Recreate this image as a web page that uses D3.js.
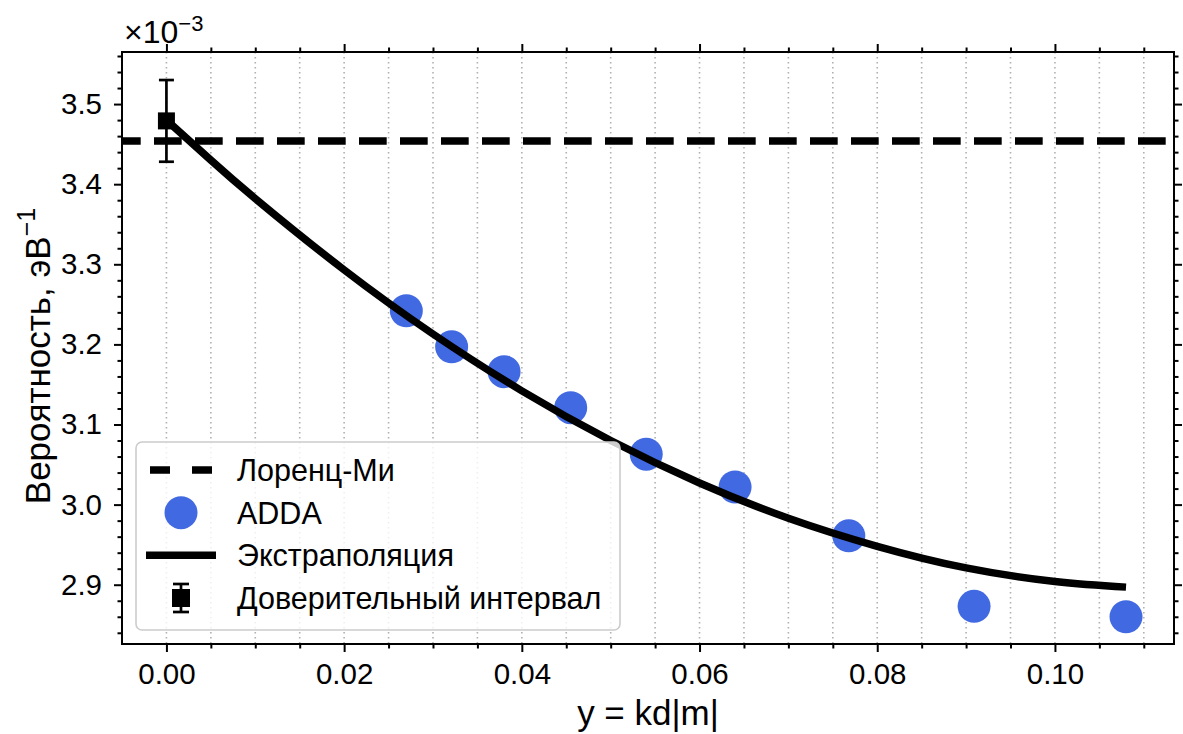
<!DOCTYPE html>
<html>
<head>
<meta charset="utf-8">
<script src="https://cdn.jsdelivr.net/npm/d3@7"></script>
<style>
  body { margin: 0; background: #fff; }
  svg { font-family: "Liberation Sans", Arial, sans-serif; }
</style>
</head>
<body>
<div id="chart"></div>
<script>
// values in units of 1e-3
const addaX = [0.0270, 0.0321, 0.0380, 0.0455, 0.0540, 0.0640, 0.0768, 0.0909, 0.1080]
const addaY = [3.242, 3.197, 3.166, 3.121, 3.063, 3.022, 2.961, 2.873, 2.860]

const fitX = [0, 0.005, 0.01, 0.02, 0.03, 0.04, 0.05, 0.06, 0.07, 0.08, 0.09, 0.10, 0.108]
const fitY = [3.480, 3.430, 3.382, 3.293, 3.213, 3.142, 3.080, 3.027, 2.983, 2.948, 2.921, 2.904, 2.897]

const lorenzMie = 3.454
const ciX = [0]
const ciY = [3.479]
const ciErr = [0.051]

const xTicks = [0.00, 0.02, 0.04, 0.06, 0.08, 0.10]
const yTicks = [2.9, 3.0, 3.1, 3.2, 3.3, 3.4, 3.5]
const legendLabels = ["Лоренц-Ми", "ADDA", "Экстраполяция", "Доверительный интервал"]

drawChart("#chart")

function drawChart(id){
    const canvas = createCanvas()
    const svg = addSvg(id, canvas)
    const sc = addScales(canvas)

    addGrid(svg, sc, canvas)
    addLorenzLine(svg, sc, canvas)
    addAddaPoints(svg, sc)
    addFitLine(svg, sc)
    addErrorBar(svg, sc)
    addAxes(svg, sc, canvas)
    addLabels(svg, canvas)
    addLegend(svg)
}

function createCanvas(){
    return {
        width: 1183, height: 734, margin: {top: 52, bottom: 90, right: 9, left: 122}
    }
}

function addSvg(id, canvas){
    return d3.select(id).append("svg")
        .attr("width", canvas.width).attr("height", canvas.height)
}

function addScales(canvas){
    const xScale = d3.scaleLinear().domain([-0.005, 0.1134])
        .range([canvas.margin.left, canvas.width - canvas.margin.right])
    const yScale = d3.scaleLinear().domain([2.826, 3.565])
        .range([canvas.height - canvas.margin.bottom, canvas.margin.top])
    return {xScale, yScale}
}

function addGrid(svg, sc, canvas){
    const minor = d3.range(0, 0.1134, 0.005)
    svg.append("g").selectAll("line").data(minor).join("line")
        .attr("x1", d => sc.xScale(d)).attr("x2", d => sc.xScale(d))
        .attr("y1", canvas.margin.top).attr("y2", canvas.height - canvas.margin.bottom)
        .attr("stroke", "#b0b0b0").attr("stroke-width", 1.6)
        .attr("stroke-dasharray", "1.6 3.4")
}

function addLorenzLine(svg, sc, canvas){
    svg.append("line")
        .attr("x1", canvas.margin.left).attr("x2", canvas.width - canvas.margin.right)
        .attr("y1", sc.yScale(lorenzMie)).attr("y2", sc.yScale(lorenzMie))
        .attr("stroke", "#000").attr("stroke-width", 7.5)
        .attr("stroke-dasharray", "27.7 13.3").attr("stroke-dashoffset", 9)
}

function addAddaPoints(svg, sc){
    svg.append("g").selectAll("circle").data(addaX).join("circle")
        .attr("cx", d => sc.xScale(d)).attr("cy", (d, i) => sc.yScale(addaY[i]))
        .attr("r", 16.5).attr("fill", "#4169e1")
}

function addFitLine(svg, sc){
    const line = d3.line().curve(d3.curveNatural)
        .x(d => sc.xScale(d)).y((d, i) => sc.yScale(fitY[i]))
    svg.append("path").datum(fitX).attr("fill", "none").attr("stroke", "#000")
        .attr("stroke-width", 7.5).attr("d", line)
}

function addErrorBar(svg, sc){
    const g = svg.append("g")
    ciX.forEach((x, i) => {
        const cx = sc.xScale(x)
        const y1 = sc.yScale(ciY[i] + ciErr[i]), y2 = sc.yScale(ciY[i] - ciErr[i])
        g.append("line").attr("x1", cx).attr("x2", cx).attr("y1", y1).attr("y2", y2)
            .attr("stroke", "#000").attr("stroke-width", 2.7)
        ;[y1, y2].forEach(y => g.append("line").attr("x1", cx - 7.5).attr("x2", cx + 7.5)
            .attr("y1", y).attr("y2", y).attr("stroke", "#000").attr("stroke-width", 2.7))
        g.append("rect").attr("x", cx - 8.5).attr("y", sc.yScale(ciY[i]) - 8.5)
            .attr("width", 17).attr("height", 17).attr("fill", "#000")
    })
}

function addAxes(svg, sc, canvas){
    const x0 = canvas.margin.left, x1 = canvas.width - canvas.margin.right
    const y0 = canvas.margin.top, y1 = canvas.height - canvas.margin.bottom
    const xMinor = d3.range(0, 0.1134, 0.005).filter(d => Math.abs(d / 0.02 - Math.round(d / 0.02)) > 1e-6)
    const yMinor = d3.range(2.84, 3.565, 0.02).filter(d => Math.abs(d * 10 - Math.round(d * 10)) > 1e-6)

    const style = g => g.call(g => g.select(".domain").remove())
        .call(g => g.selectAll(".tick line").attr("stroke", "#000").attr("stroke-width", 2))

    const bottom = svg.append("g").attr("transform", `translate(0,${y1})`)
    bottom.call(d3.axisBottom(sc.xScale).tickValues(xMinor).tickSize(4.5).tickFormat("")).call(style)
    bottom.append("g").call(d3.axisBottom(sc.xScale).tickValues(xTicks).tickSize(8).tickPadding(11)
        .tickFormat(d3.format(".2f"))).call(style)

    const top = svg.append("g").attr("transform", `translate(0,${y0})`)
    top.call(d3.axisTop(sc.xScale).tickValues(xMinor).tickSize(4.5).tickFormat("")).call(style)
    top.append("g").call(d3.axisTop(sc.xScale).tickValues(xTicks).tickSize(8).tickFormat("")).call(style)

    const left = svg.append("g").attr("transform", `translate(${x0},0)`)
    left.call(d3.axisLeft(sc.yScale).tickValues(yMinor).tickSize(4.5).tickFormat("")).call(style)
    left.append("g").call(d3.axisLeft(sc.yScale).tickValues(yTicks).tickSize(8).tickPadding(12)
        .tickFormat(d3.format(".1f"))).call(style)

    const right = svg.append("g").attr("transform", `translate(${x1},0)`)
    right.call(d3.axisRight(sc.yScale).tickValues(yMinor).tickSize(4.5).tickFormat("")).call(style)
    right.append("g").call(d3.axisRight(sc.yScale).tickValues(yTicks).tickSize(8).tickFormat("")).call(style)

    svg.selectAll(".tick text").attr("fill", "#000").attr("font-size", 29.5)
        .attr("font-family", "Liberation Sans, Arial, sans-serif")

    svg.append("rect").attr("x", x0).attr("y", y0).attr("width", x1 - x0).attr("height", y1 - y0)
        .attr("fill", "none").attr("stroke", "#000").attr("stroke-width", 2)
}

function addLabels(svg, canvas){
    const cx = (canvas.margin.left + canvas.width - canvas.margin.right) / 2
    svg.append("text").attr("x", cx).attr("y", 725).attr("text-anchor", "middle")
        .attr("font-size", 35).text("y = kd|m|")

    const yl = svg.append("text").attr("transform", "translate(50,356) rotate(-90)")
        .attr("text-anchor", "middle").attr("font-size", 35)
    yl.append("tspan").text("Вероятность, эВ")
    yl.append("tspan").attr("dy", -15).attr("font-size", 25).text("\u22121")

    const mult = svg.append("text").attr("x", 124).attr("y", 43).attr("font-size", 32)
    mult.append("tspan").text("×10")
    mult.append("tspan").attr("dy", -12).attr("font-size", 22).text("\u22123")
}

function addLegend(svg){
    const g = svg.append("g")
    g.append("rect").attr("x", 136).attr("y", 442).attr("width", 484).attr("height", 188)
        .attr("rx", 6).attr("fill", "#fff").attr("fill-opacity", 0.8)
        .attr("stroke", "#cccccc").attr("stroke-width", 1.6)

    const rowY = d3.scaleLinear().domain([0, 3]).range([470, 598])
    const hx = 181
    legendLabels.forEach((label, i) => {
        const y = rowY(i)
        if (i === 0) {
            g.append("line").attr("x1", 150).attr("x2", 212).attr("y1", y).attr("y2", y)
                .attr("stroke", "#000").attr("stroke-width", 7.5).attr("stroke-dasharray", "20 22")
        } else if (i === 1) {
            g.append("circle").attr("cx", hx).attr("cy", y).attr("r", 16.5).attr("fill", "#4169e1")
        } else if (i === 2) {
            g.append("line").attr("x1", 146).attr("x2", 216).attr("y1", y).attr("y2", y)
                .attr("stroke", "#000").attr("stroke-width", 7.5)
        } else {
            g.append("line").attr("x1", hx).attr("x2", hx).attr("y1", y - 14).attr("y2", y + 14)
                .attr("stroke", "#000").attr("stroke-width", 2.7)
            ;[y - 14, y + 14].forEach(yy => g.append("line").attr("x1", hx - 8).attr("x2", hx + 8)
                .attr("y1", yy).attr("y2", yy).attr("stroke", "#000").attr("stroke-width", 2.7))
            g.append("rect").attr("x", hx - 9).attr("y", y - 9).attr("width", 18).attr("height", 18)
                .attr("fill", "#000")
        }
        g.append("text").attr("x", 237).attr("y", y).attr("dy", "0.36em")
            .attr("font-size", 30.5).text(label)
    })
}
</script>
</body>
</html>
